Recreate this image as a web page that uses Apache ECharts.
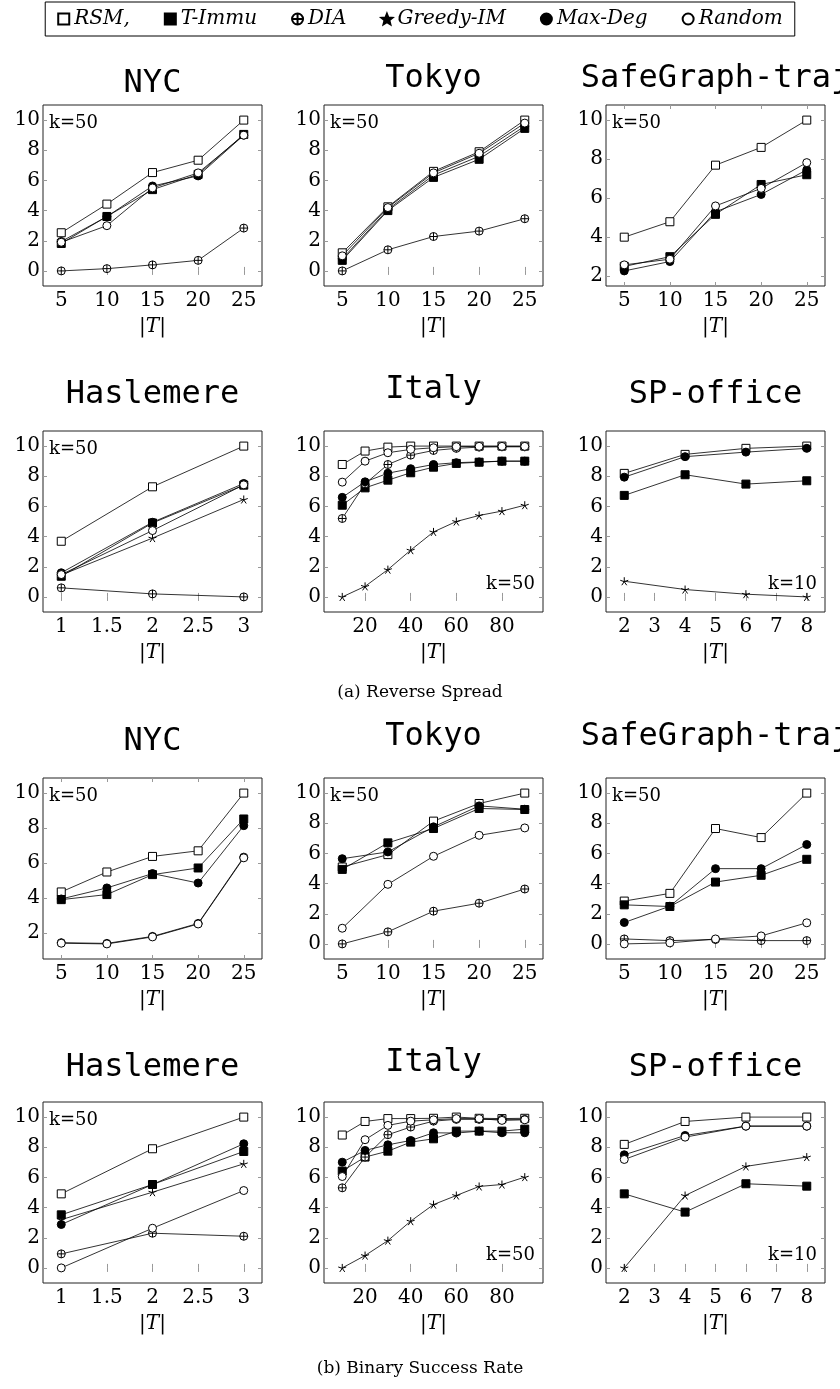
<!DOCTYPE html>
<html>
<head>
<meta charset="utf-8">
<title>Reverse Spread / Binary Success Rate</title>
<script src="https://cdn.jsdelivr.net/npm/echarts@6.0.0/dist/echarts.min.js"></script>
<style>
  html, body { margin: 0; padding: 0; background: #fff; }
  #chart { width: 840px; height: 1389px; }
</style>
</head>
<body>
<div id="chart"></div>
<script>
// methods, in legend order
const methods = ['RSM,', 'T-Immu', 'DIA', 'Greedy-IM', 'Max-Deg', 'Random'];

// |T| values per dataset
const xNYC = [5, 10, 15, 20, 25];
const xHasl = [1, 2, 3];
const xItaly = [10, 20, 30, 40, 50, 60, 70, 80, 90];
const xSP = [2, 4, 6, 8];

// tick labels
const ticksNYC = [5, 10, 15, 20, 25];
const ticksHasl = [1, 1.5, 2, 2.5, 3];
const ticksItaly = [20, 40, 60, 80];
const ticksSP = [2, 3, 4, 5, 6, 7, 8];
const ticksY = [0, 2, 4, 6, 8, 10];

// (a) Reverse Spread
const rsNYC = {
  'RSM,':    [2.53, 4.43, 6.52, 7.34, 10],
  'T-Immu':  [1.82, 3.61, 5.39, 6.4, 9.05],
  'DIA':     [0, 0.15, 0.4, 0.7, 2.84],
  'Max-Deg': [1.95, 3.6, 5.63, 6.3, 9.0],
  'Random':  [1.9, 3.0, 5.5, 6.5, 9.0]
};
const rsTokyo = {
  'RSM,':    [1.2, 4.25, 6.6, 7.9, 10],
  'T-Immu':  [0.7, 4.0, 6.2, 7.4, 9.45],
  'DIA':     [0, 1.4, 2.28, 2.64, 3.46],
  'Max-Deg': [0.8, 4.08, 6.35, 7.6, 9.6],
  'Random':  [1.0, 4.2, 6.5, 7.8, 9.8]
};
const rsSafe = {
  'RSM,':    [4.0, 4.79, 7.69, 8.6, 10],
  'T-Immu':  [2.5, 3.0, 5.17, 6.7, 7.2],
  'Max-Deg': [2.27, 2.75, 5.3, 6.19, 7.45],
  'Random':  [2.58, 2.87, 5.6, 6.5, 7.82]
};
const rsHasl = {
  'RSM,':      [3.69, 7.3, 10],
  'T-Immu':    [1.37, 4.9, 7.41],
  'DIA':       [0.6, 0.2, 0],
  'Greedy-IM': [1.45, 3.9, 6.46],
  'Max-Deg':   [1.6, 4.95, 7.52],
  'Random':    [1.48, 4.4, 7.43]
};
const rsItaly = {
  'RSM,':      [8.78, 9.67, 9.93, 10, 10, 10, 10, 10, 10],
  'T-Immu':    [6.08, 7.23, 7.74, 8.23, 8.6, 8.85, 8.93, 9.0, 9.0],
  'DIA':       [5.2, 7.5, 8.78, 9.4, 9.71, 9.85, 9.93, 9.95, 9.95],
  'Greedy-IM': [0, 0.7, 1.81, 3.1, 4.31, 5.0, 5.4, 5.69, 6.08],
  'Max-Deg':   [6.6, 7.63, 8.2, 8.5, 8.78, 8.9, 8.95, 9.0, 9.0],
  'Random':    [7.61, 9.0, 9.56, 9.78, 9.89, 9.96, 9.98, 9.98, 9.98]
};
const rsSP = {
  'RSM,':      [8.19, 9.45, 9.85, 10],
  'T-Immu':    [6.73, 8.1, 7.48, 7.7],
  'Greedy-IM': [1.04, 0.49, 0.18, 0],
  'Max-Deg':   [7.94, 9.3, 9.6, 9.85]
};

// (b) Binary Success Rate
const bsNYC = {
  'RSM,':    [4.35, 5.49, 6.38, 6.7, 10],
  'T-Immu':  [3.91, 4.2, 5.34, 5.72, 8.52],
  'DIA':     [1.45, 1.41, 1.81, 2.55, 6.34],
  'Max-Deg': [3.95, 4.58, 5.4, 4.86, 8.14],
  'Random':  [1.42, 1.38, 1.78, 2.52, 6.3]
};
const bsTokyo = {
  'RSM,':    [5.1, 5.92, 8.14, 9.31, 10],
  'T-Immu':  [4.94, 6.7, 7.65, 8.98, 8.91],
  'DIA':     [0, 0.8, 2.17, 2.7, 3.64],
  'Max-Deg': [5.65, 6.1, 7.76, 9.15, 8.93],
  'Random':  [1.04, 3.95, 5.81, 7.2, 7.69]
};
const bsSafe = {
  'RSM,':    [2.84, 3.35, 7.65, 7.05, 10],
  'T-Immu':  [2.59, 2.48, 4.1, 4.55, 5.61],
  'DIA':     [0.33, 0.22, 0.29, 0.22, 0.22],
  'Max-Deg': [1.42, 2.5, 4.99, 4.99, 6.59],
  'Random':  [0, 0.07, 0.33, 0.53, 1.4]
};
const bsHasl = {
  'RSM,':      [4.91, 7.9, 10],
  'T-Immu':    [3.52, 5.53, 7.72],
  'DIA':       [0.93, 2.3, 2.1],
  'Greedy-IM': [3.2, 5.02, 6.9],
  'Max-Deg':   [2.88, 5.53, 8.23],
  'Random':    [0, 2.63, 5.13]
};
const bsItaly = {
  'RSM,':      [8.81, 9.71, 9.9, 9.9, 9.92, 10, 9.92, 9.9, 9.92],
  'T-Immu':    [6.42, 7.35, 7.74, 8.34, 8.56, 9.07, 9.07, 9.07, 9.2],
  'DIA':       [5.31, 7.35, 8.83, 9.34, 9.73, 9.85, 9.85, 9.85, 9.85],
  'Greedy-IM': [0, 0.82, 1.81, 3.1, 4.2, 4.8, 5.4, 5.53, 6.02],
  'Max-Deg':   [7.01, 7.79, 8.16, 8.45, 8.96, 8.94, 9.07, 8.96, 8.96],
  'Random':    [6.06, 8.5, 9.45, 9.73, 9.82, 9.9, 9.9, 9.78, 9.82]
};
const bsSP = {
  'RSM,':      [8.19, 9.71, 10, 10],
  'T-Immu':    [4.91, 3.7, 5.58, 5.42],
  'Greedy-IM': [0, 4.8, 6.73, 7.35],
  'Max-Deg':   [7.5, 8.78, 9.4, 9.4],
  'Random':    [7.19, 8.67, 9.4, 9.4]
};

// layout
const COLS = [43, 324, 606];
const ROWS = [105, 431, 778, 1102];
const TITLE_TOP = [68, 379, 726, 1052];
const BOX_W = 219, BOX_H = 181;
const SERIF = '"DejaVu Serif", serif';
const MONO = '"DejaVu Sans Mono", monospace';

const panels = [
  {title: 'NYC', x: xNYC, xt: ticksNYC, data: rsNYC, k: 'k=50', corner: 'tl', col: 0, row: 0},
  {title: 'Tokyo', x: xNYC, xt: ticksNYC, data: rsTokyo, k: 'k=50', corner: 'tl', col: 1, row: 0},
  {title: 'SafeGraph-traj', x: xNYC, xt: ticksNYC, data: rsSafe, k: 'k=50', corner: 'tl', col: 2, row: 0},
  {title: 'Haslemere', x: xHasl, xt: ticksHasl, data: rsHasl, k: 'k=50', corner: 'tl', col: 0, row: 1},
  {title: 'Italy', x: xItaly, xt: ticksItaly, data: rsItaly, k: 'k=50', corner: 'br', col: 1, row: 1},
  {title: 'SP-office', x: xSP, xt: ticksSP, data: rsSP, k: 'k=10', corner: 'br', col: 2, row: 1},
  {title: 'NYC', x: xNYC, xt: ticksNYC, data: bsNYC, k: 'k=50', corner: 'tl', col: 0, row: 2},
  {title: 'Tokyo', x: xNYC, xt: ticksNYC, data: bsTokyo, k: 'k=50', corner: 'tl', col: 1, row: 2},
  {title: 'SafeGraph-traj', x: xNYC, xt: ticksNYC, data: bsSafe, k: 'k=50', corner: 'tl', col: 2, row: 2},
  {title: 'Haslemere', x: xHasl, xt: ticksHasl, data: bsHasl, k: 'k=50', corner: 'tl', col: 0, row: 3},
  {title: 'Italy', x: xItaly, xt: ticksItaly, data: bsItaly, k: 'k=50', corner: 'br', col: 1, row: 3},
  {title: 'SP-office', x: xSP, xt: ticksSP, data: bsSP, k: 'k=10', corner: 'br', col: 2, row: 3}
];

const OPLUS = 'path://M10,0A10,10,0,0,1,10,20A10,10,0,0,1,10,0ZM10,0L10,20M0,10L20,10';
const ASTER = 'path://M0,-10L0,0M0,0L9.5,-3.1M0,0L5.9,8.1M0,0L-5.9,8.1M0,0L-9.5,-3.1';
const STAR = 'path://M0,-10L2.6,-3.5L9.5,-3.1L4.2,1.4L5.9,8.1L0,4.3L-5.9,8.1L-4.2,1.4L-9.5,-3.1L-2.6,-3.5Z';

const marks = {
  'RSM,':      {symbol: 'rect', color: '#fff', size: 8, icon: 'rect'},
  'T-Immu':    {symbol: 'rect', color: '#000', size: 8, icon: 'rect'},
  'DIA':       {symbol: OPLUS, color: '#fff', size: 8, icon: OPLUS},
  'Greedy-IM': {symbol: ASTER, color: '#000', size: 8, icon: STAR},
  'Max-Deg':   {symbol: 'circle', color: '#000', size: 8, icon: 'circle'},
  'Random':    {symbol: 'circle', color: '#fff', size: 8, icon: 'circle'}
};

const tickStyle = {inside: true, length: 4, lineStyle: {color: '#999', width: 1}};
const grids = [], xAxes = [], yAxes = [], series = [], titles = [], graphics = [];

panels.forEach((p, i) => {
  const left = COLS[p.col], top = ROWS[p.row];
  grids.push({left, top, width: BOX_W, height: BOX_H, show: true,
    borderColor: '#222', borderWidth: 1, backgroundColor: 'transparent', outerBoundsMode: 'none'});

  const ys = Object.values(p.data).flat();
  const yLo = Math.min(...ys), yHi = Math.max(...ys);
  const xLo = Math.min(...p.x), xHi = Math.max(...p.x);
  const yMin = yLo - 0.1 * (yHi - yLo), yMax = yHi + 0.1 * (yHi - yLo);
  const xMin = xLo - 0.1 * (xHi - xLo), xMax = xHi + 0.1 * (xHi - xLo);
  const yt = ticksY.filter(v => v >= yMin && v <= yMax);

  xAxes.push({
    type: 'value', gridIndex: i, min: xMin, max: xMax, position: 'bottom',
    axisLine: {show: false}, splitLine: {show: false},
    axisTick: Object.assign({customValues: p.xt}, tickStyle),
    axisLabel: {customValues: p.xt, margin: 5, color: '#000', fontFamily: SERIF, fontSize: 20},
    name: '|{i|T}|', nameLocation: 'middle', nameGap: 31,
    nameTextStyle: {color: '#000', fontFamily: SERIF, fontSize: 20,
      rich: {i: {fontStyle: 'italic', fontFamily: SERIF, fontSize: 20, color: '#000'}}}
  });
  xAxes.push({
    type: 'value', gridIndex: i, min: xMin, max: xMax, position: 'top',
    axisLine: {show: false}, splitLine: {show: false}, axisLabel: {show: false},
    axisTick: Object.assign({customValues: p.xt}, tickStyle)
  });
  yAxes.push({
    type: 'value', gridIndex: i, min: yMin, max: yMax, position: 'left',
    axisLine: {show: false}, splitLine: {show: false},
    axisTick: Object.assign({customValues: yt}, tickStyle),
    axisLabel: {customValues: yt, margin: 3, color: '#000', fontFamily: SERIF, fontSize: 20}
  });
  yAxes.push({
    type: 'value', gridIndex: i, min: yMin, max: yMax, position: 'right',
    axisLine: {show: false}, splitLine: {show: false}, axisLabel: {show: false},
    axisTick: Object.assign({customValues: yt}, tickStyle)
  });

  methods.forEach(m => {
    if (!p.data[m]) return;
    const mk = marks[m];
    series.push({
      type: 'line', name: m, xAxisIndex: 2 * i, yAxisIndex: 2 * i,
      data: p.x.map((xv, j) => [xv, p.data[m][j]]),
      symbol: mk.symbol, symbolSize: mk.size, showSymbol: true,
      itemStyle: {color: mk.color, borderColor: '#000', borderWidth: 1},
      lineStyle: {color: '#000', width: 0.8},
      emphasis: {disabled: true}, silent: true
    });
  });

  // titles sit on their box bottom, so ones with descenders ride a bit higher
  const lift = /[ypgj]/.test(p.title) ? 5 : 0;
  titles.push({
    text: p.title, left: left + BOX_W / 2, top: TITLE_TOP[p.row] - lift, textAlign: 'center', padding: 0,
    textStyle: {fontFamily: MONO, fontSize: 32, fontWeight: 'normal', color: '#000'}
  });

  const kText = p.corner === 'tl'
    ? {x: left + 6, y: top + 18, align: 'left'}
    : {x: left + BOX_W - 8, y: top + BOX_H - 28, align: 'right'};
  graphics.push({
    type: 'text', x: kText.x, y: kText.y, z: 100,
    style: {text: p.k, font: '18px ' + SERIF, fill: '#000', align: kText.align, verticalAlign: 'middle'}
  });
});

titles.push({text: '(a) Reverse Spread', left: 420, top: 684, textAlign: 'center', padding: 0,
  textStyle: {fontFamily: SERIF, fontSize: 17, fontWeight: 'normal', color: '#000'}});
titles.push({text: '(b) Binary Success Rate', left: 420, top: 1360, textAlign: 'center', padding: 0,
  textStyle: {fontFamily: SERIF, fontSize: 17, fontWeight: 'normal', color: '#000'}});

const chart = echarts.init(document.getElementById('chart'), null, {renderer: 'canvas'});
chart.setOption({
  animation: false,
  backgroundColor: '#fff',
  title: titles,
  legend: {
    top: 2, left: 'center', selectedMode: false,
    data: methods.map(m => ({name: m, icon: marks[m].icon})),
    itemWidth: 11, itemHeight: 11, itemGap: 34,
    borderColor: '#000', borderWidth: 1, padding: [7, 12],
    textStyle: {fontFamily: SERIF, fontStyle: 'italic', fontSize: 20, color: '#000'}
  },
  grid: grids,
  xAxis: xAxes,
  yAxis: yAxes,
  series: series,
  graphic: graphics
});
</script>
</body>
</html>
